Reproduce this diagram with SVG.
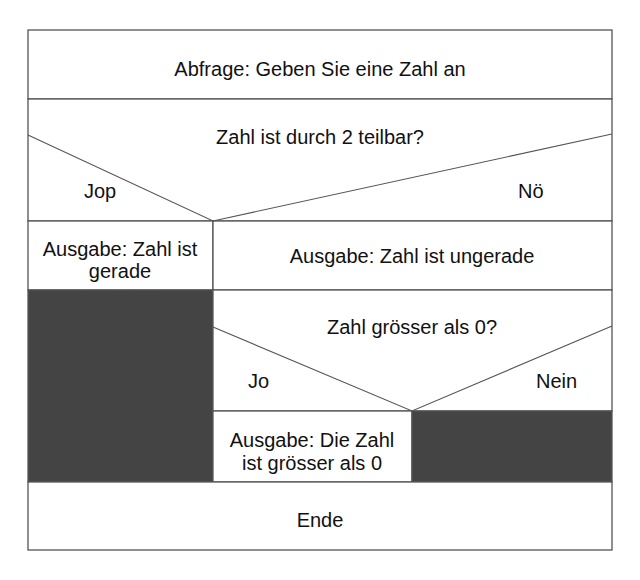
<svg xmlns="http://www.w3.org/2000/svg" width="640" height="580" viewBox="0 0 640 580">
<style>
.b{fill:#fff;stroke:#555;stroke-width:1.3}
.d{fill:#444;stroke:#555;stroke-width:1.3}
.l{fill:none;stroke:#555;stroke-width:1.1}
text{font-family:"Liberation Sans",Arial,sans-serif;font-size:20px;fill:#111}
.c{text-anchor:middle}
</style>
<rect width="640" height="580" fill="#fff"/>
<g id="abfrage"><rect class="b" x="28" y="30" width="584" height="69"/><text class="c" x="320" y="76">Abfrage: Geben Sie eine Zahl an</text></g>
<g id="if1"><rect class="b" x="28" y="99" width="584" height="122"/><text class="c" x="320" y="144">Zahl ist durch 2 teilbar?</text><text x="84" y="198">Jop</text><text x="518" y="198">Nö</text></g>
<g id="gerade"><rect class="b" x="28" y="221" width="185" height="69"/><text class="c" x="120" y="256">Ausgabe: Zahl ist</text><text class="c" x="120" y="278">gerade</text></g>
<g id="ungerade"><rect class="b" x="213" y="221" width="399" height="69"/><text class="c" x="412" y="263">Ausgabe: Zahl ist ungerade</text></g>
<g id="leer1"><rect class="d" x="28" y="290" width="185" height="192"/></g>
<g id="if2"><rect class="b" x="213" y="290" width="399" height="121"/><text class="c" x="412" y="334">Zahl grösser als 0?</text><text x="248" y="388">Jo</text><text x="536" y="388">Nein</text></g>
<g id="positiv"><rect class="b" x="213" y="411" width="199" height="71"/><text class="c" x="312" y="447">Ausgabe: Die Zahl</text><text class="c" x="312" y="470">ist grösser als 0</text></g>
<g id="leer2"><rect class="d" x="412" y="411" width="200" height="71"/></g>
<g id="ende"><rect class="b" x="28" y="482" width="584" height="68"/><text class="c" x="320" y="527">Ende</text></g>
<g id="connectors">
<polyline class="l" points="28,135 213,221 612,134"/>
<polyline class="l" points="213,327 412,411 612,326"/>
</g>
</svg>
